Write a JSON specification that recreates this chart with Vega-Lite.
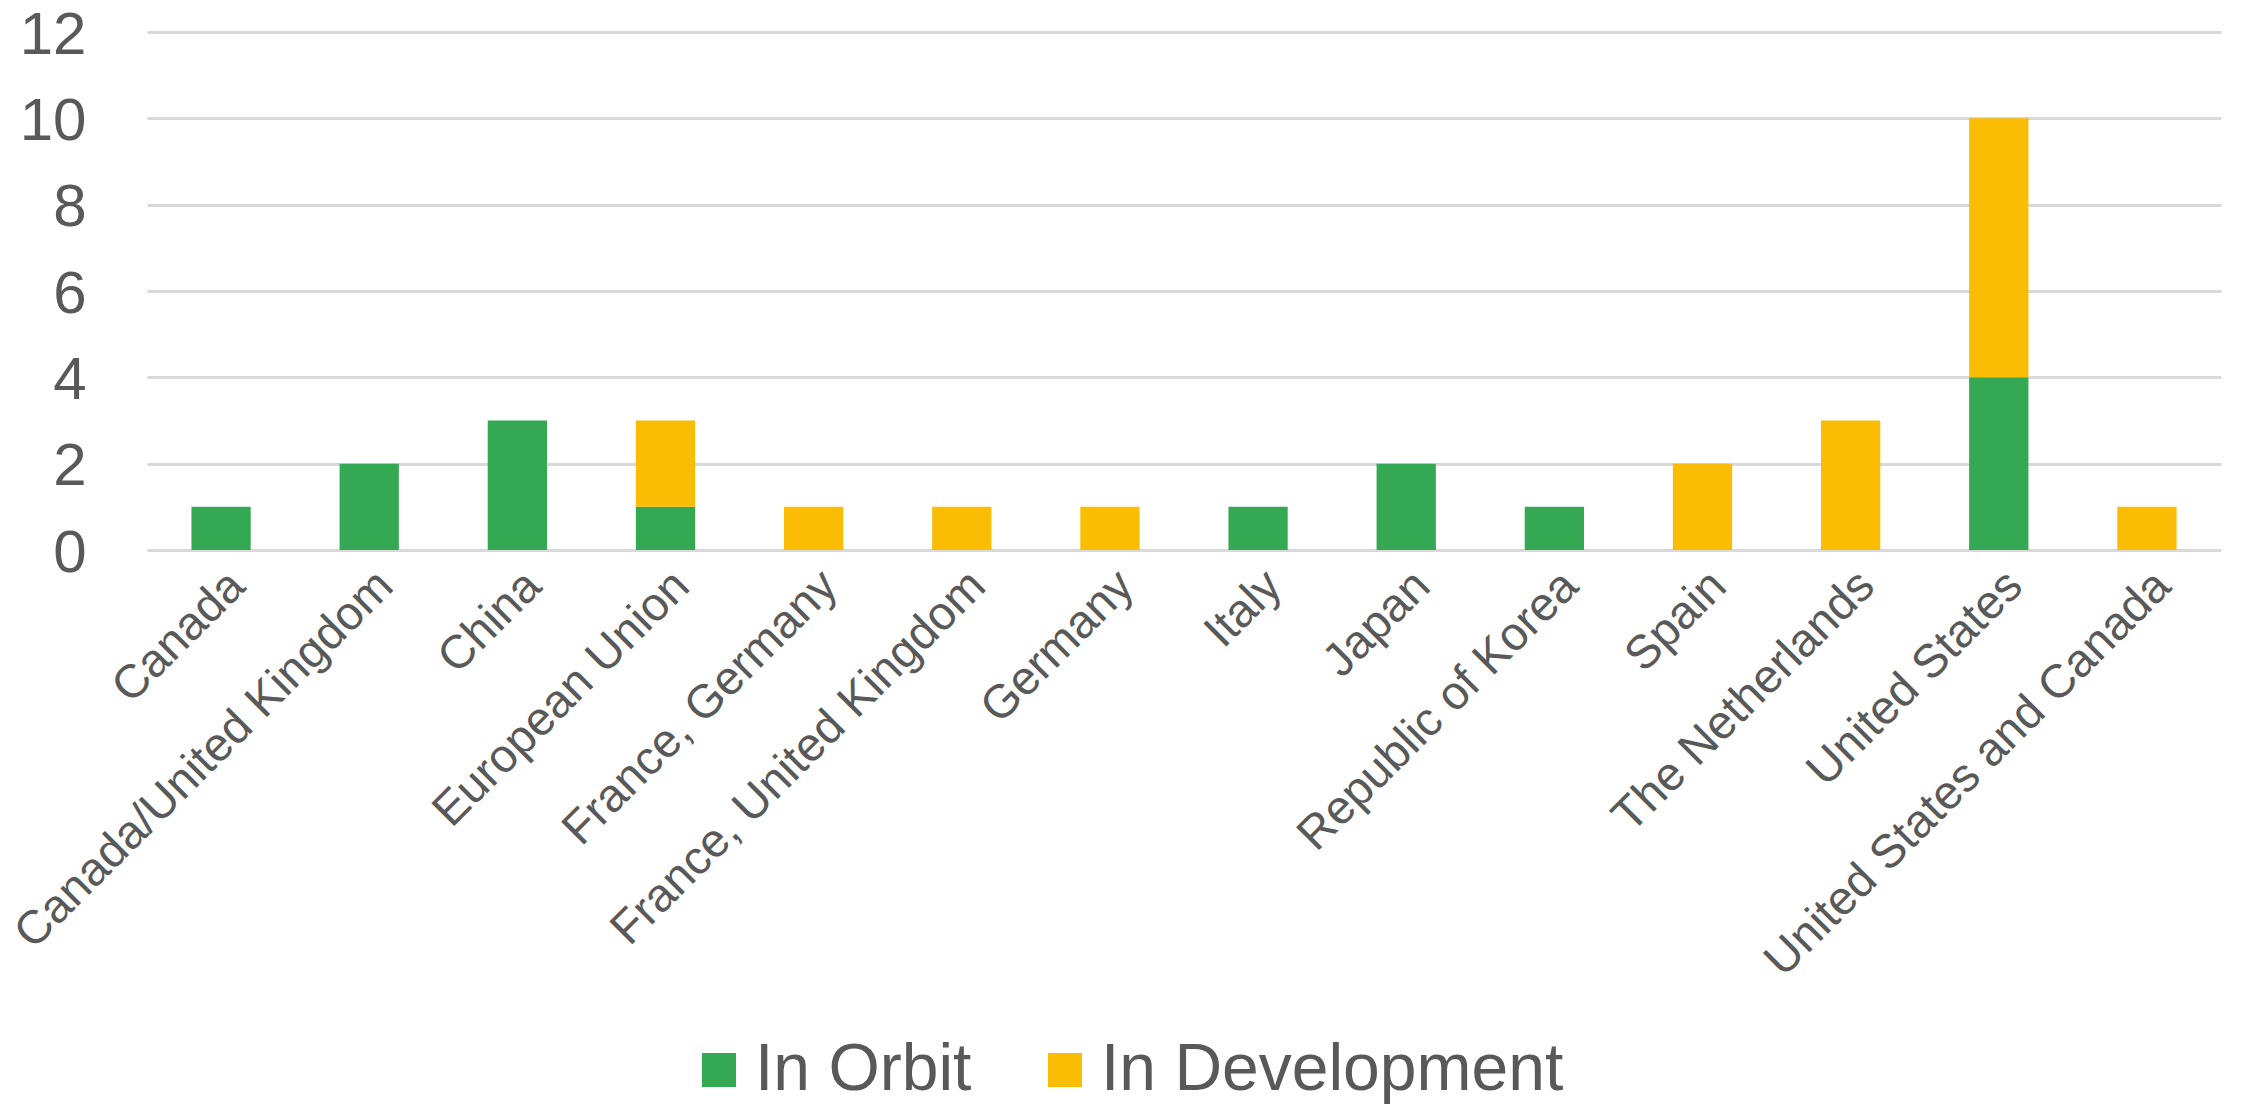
{
  "$schema": "https://vega.github.io/schema/vega-lite/v6.json",
  "autosize": {"type": "none"},
  "width": 2074,
  "height": 518,
  "padding": {"left": 147, "top": 32, "right": 23, "bottom": 556},
  "background": "white",
  "data": {
    "values": [
      {"country": "Canada", "status": "In Orbit", "count": 1},
      {"country": "Canada/United Kingdom", "status": "In Orbit", "count": 2},
      {"country": "China", "status": "In Orbit", "count": 3},
      {"country": "European Union", "status": "In Orbit", "count": 1},
      {"country": "European Union", "status": "In Development", "count": 2},
      {"country": "France, Germany", "status": "In Development", "count": 1},
      {"country": "France, United Kingdom", "status": "In Development", "count": 1},
      {"country": "Germany", "status": "In Development", "count": 1},
      {"country": "Italy", "status": "In Orbit", "count": 1},
      {"country": "Japan", "status": "In Orbit", "count": 2},
      {"country": "Republic of Korea", "status": "In Orbit", "count": 1},
      {"country": "Spain", "status": "In Development", "count": 2},
      {"country": "The Netherlands", "status": "In Development", "count": 3},
      {"country": "United States", "status": "In Orbit", "count": 4},
      {"country": "United States", "status": "In Development", "count": 6},
      {"country": "United States and Canada", "status": "In Development", "count": 1}
    ]
  },
  "transform": [
    {"calculate": "indexof(['In Orbit','In Development'], datum.status)", "as": "stackOrder"}
  ],
  "mark": {"type": "bar"},
  "encoding": {
    "x": {
      "field": "country",
      "type": "nominal",
      "sort": null,
      "scale": {"paddingInner": 0.6, "paddingOuter": 0.3},
      "axis": {
        "title": null,
        "domain": false,
        "ticks": false,
        "tickSize": 0,
        "grid": false,
        "labelAngle": -45,
        "labelFont": "Liberation Sans",
        "labelFontSize": 47,
        "labelColor": "#595959",
        "labelPadding": 12,
        "labelLimit": 1000,
        "labelOverlap": false
      }
    },
    "y": {
      "field": "count",
      "type": "quantitative",
      "stack": "zero",
      "scale": {"domain": [0, 12], "nice": false},
      "axis": {
        "title": null,
        "values": [0, 2, 4, 6, 8, 10, 12],
        "domain": false,
        "ticks": false,
        "tickSize": 0,
        "grid": true,
        "gridColor": "#d9d9d9",
        "gridWidth": 3,
        "labelFont": "Liberation Sans",
        "labelFontSize": 60,
        "labelColor": "#595959",
        "labelPadding": 61,
        "labelOffset": 3
      }
    },
    "color": {
      "field": "status",
      "type": "nominal",
      "sort": ["In Orbit", "In Development"],
      "scale": {"domain": ["In Orbit", "In Development"], "range": ["#34a853", "#fbbc04"]},
      "legend": {
        "title": null,
        "orient": "none",
        "direction": "horizontal",
        "legendX": 539,
        "legendY": 1005,
        "padding": 0,
        "symbolType": "square",
        "symbolSize": 1156,
        "symbolStrokeWidth": 0,
        "symbolOpacity": 1,
        "labelFont": "Liberation Sans",
        "labelFontSize": 66,
        "labelColor": "#595959",
        "labelOffset": 3,
        "labelLimit": 1000,
        "columnPadding": 60
      }
    },
    "order": {"field": "stackOrder", "type": "quantitative"}
  },
  "config": {"view": {"stroke": null}}
}
